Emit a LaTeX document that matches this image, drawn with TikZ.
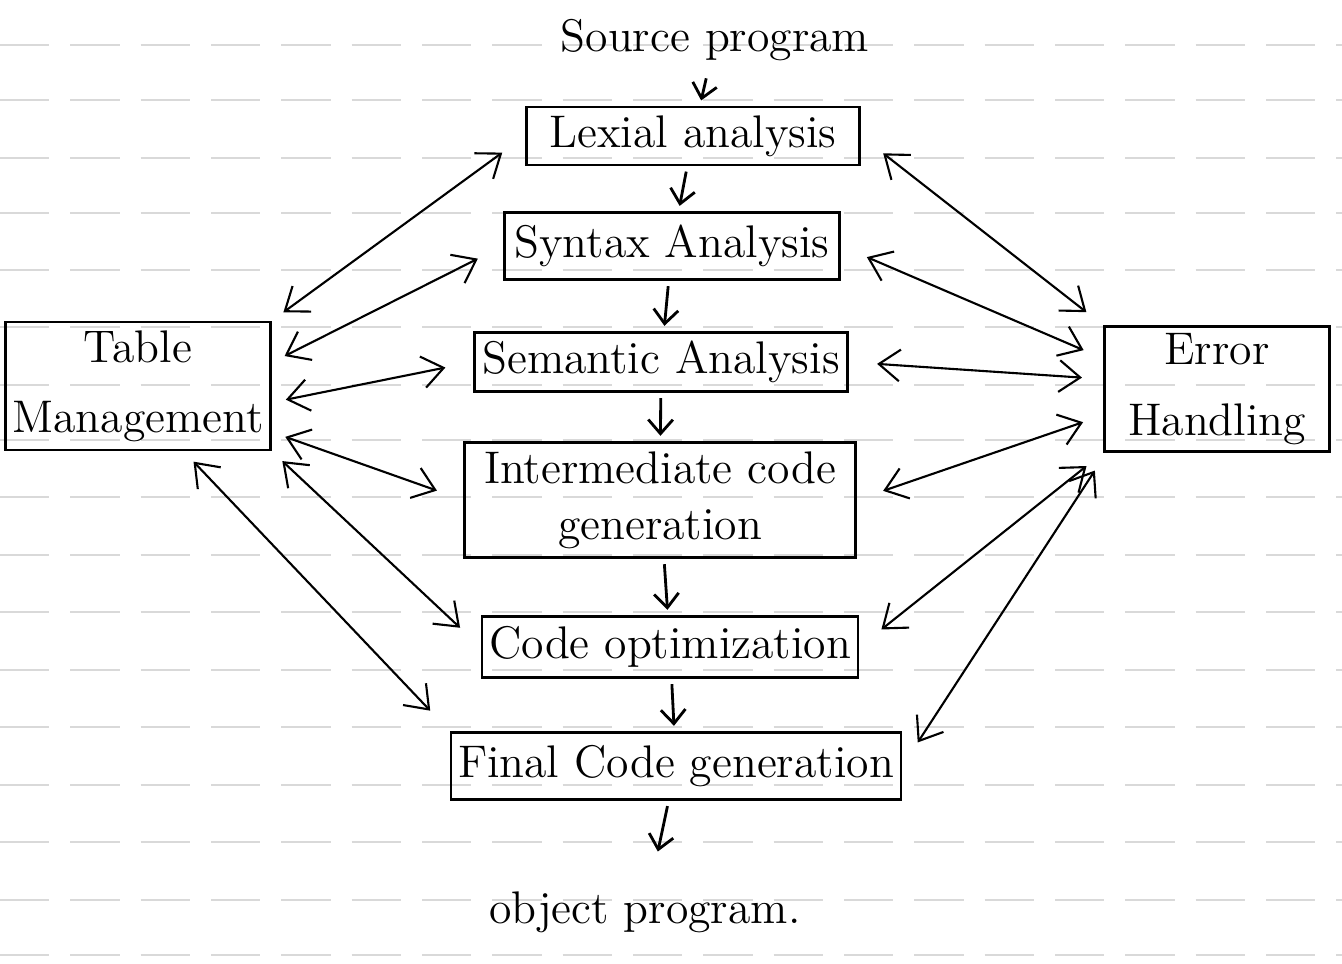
\documentclass[tikz,border=0pt]{standalone}
\usepackage{tikz}
\usetikzlibrary{arrows.meta}
\tikzset{
  stage/.style={draw,thick,rectangle,inner sep=2pt,font=\fontsize{13}{16}\selectfont,align=center},
  side/.style={draw,thick,rectangle,inner sep=2pt,font=\fontsize{13}{20}\selectfont,align=center},
  lbl/.style={font=\fontsize{13}{16}\selectfont},
  flow/.style={-{Straight Barb[length=4pt,width=7pt]},thick,shorten <=1.5pt,shorten >=1.5pt},
  link/.style={{Straight Barb[length=6pt,width=9pt]}-{Straight Barb[length=6pt,width=9pt]},semithick},
  ruled/.style={gray!30,thin,dash pattern=on 14pt off 6pt}
}
\begin{document}
\begin{tikzpicture}[x=0.01cm,y=-0.01cm]
\useasboundingbox (0,0) rectangle (1342,963);
% ruled paper
\foreach \r in {45,100,158,213,270,327,385,440,497,555,612,670,727,785,842,900,955}
  {\draw[ruled] (0,\r) -- (1342,\r);}
% pipeline
\node[lbl] (src) at (715,40) {Source program};
\node[stage,minimum width=3.33cm,minimum height=0.58cm] (lex) at (693,136) {Lexial analysis};
\node[stage,minimum width=3.35cm,minimum height=0.67cm] (syn) at (672,246) {Syntax Analysis};
\node[stage,minimum width=3.73cm,minimum height=0.59cm] (sem) at (661,362) {Semantic Analysis};
\node[stage,minimum width=3.90cm,minimum height=1.15cm] (icg) at (660,500) {Intermediate code\\generation};
\node[stage,minimum width=3.66cm,minimum height=0.61cm] (opt) at (670,647) {Code optimization};
\node[stage,minimum width=4.47cm,minimum height=0.67cm] (fcg) at (676,766) {Final Code generation};
\node[lbl] (obj) at (645,912) {object program.};
% side boxes
\node[side,minimum width=2.47cm,minimum height=1.28cm] (tbl) at (138,386) {Table\\Management};
\node[side,minimum width=2.25cm,minimum height=1.12cm] (err) at (1217,389) {Error\\Handling};
% down arrows
\draw[flow] (src) -- (lex);
\draw[flow] (lex) -- (syn);
\draw[flow] (syn) -- (sem);
\draw[flow] (sem) -- (icg);
\draw[flow] (icg) -- (opt);
\draw[flow] (opt) -- (fcg);
\draw[flow,shorten >=8pt] (fcg) -- (obj);
% table management links
\foreach \a/\b in {north east/lex.west,10/syn.west,-7/sem.west,-19/icg.west,south east/opt.west,-55/fcg.north west}
  {\draw[link,shorten <=4pt,shorten >=8pt] (tbl.\a) -- (\b);}
% error handling links
\foreach \a/\b in {lex.east/north west,syn.east/165,sem.east/175,icg.east/193,opt.east/south west,fcg.east/210}
  {\draw[link,shorten <=8pt,shorten >=6pt] (\a) -- (err.\b);}
\end{tikzpicture}
\end{document}
